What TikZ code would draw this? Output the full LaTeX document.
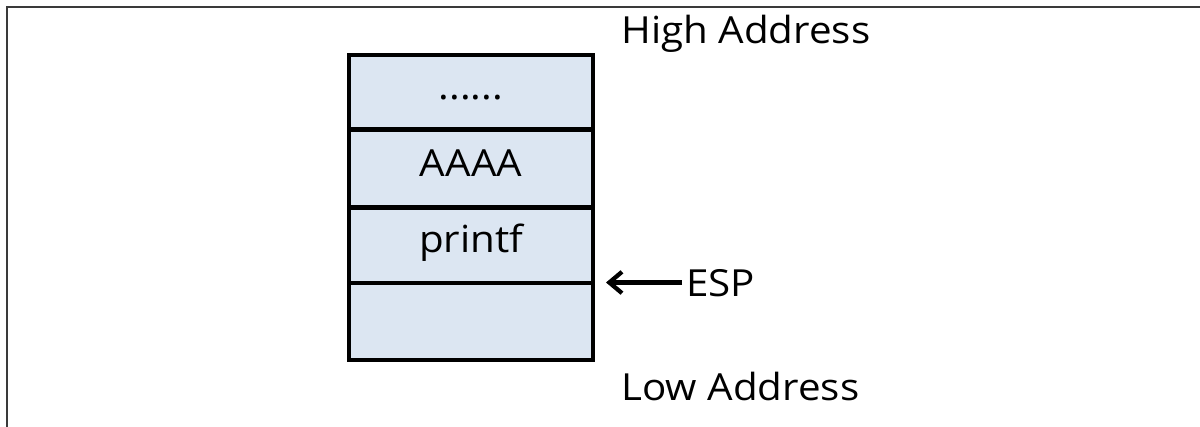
\documentclass[tikz,border=0pt]{standalone}
\usepackage{fontspec}
\setmainfont[FakeStretch=1.08]{Open Sans}
\usetikzlibrary{arrows.meta}
\definecolor{cellfill}{HTML}{DCE6F2}
\definecolor{framegray}{HTML}{3A3A3A}
\tikzset{
  cellbox/.style={draw=black, fill=cellfill, line width=3.5pt, minimum width=183pt,
    inner sep=0pt, outer sep=0pt, anchor=north west},
  lbl/.style={font=\fontsize{28pt}{32pt}\selectfont, inner sep=0pt, text=black},
  ptr/.style={line width=3.2pt, -{Straight Barb[length=9.5pt,width=16pt,line width=3.2pt]}},
}
\begin{document}
\begin{tikzpicture}[x=0.75pt,y=-0.75pt]
\useasboundingbox (0,0) rectangle (1200,427);
\fill[white] (0,0) rectangle (1200,427);
% image frame (top and left edges)
\draw[framegray, line width=1.5pt] (6.5,427) -- (6.5,7.5) -- (1200,7.5);
% stack cells
\node[cellbox, minimum height=55.9pt] (c1) at (349,55) {};
\node[cellbox, minimum height=58.5pt] (c2) at (349,129.5) {};
\node[cellbox, minimum height=56.6pt] (c3) at (349,207.5) {};
\node[cellbox, minimum height=57.8pt] (c4) at (349,283) {};
% cell texts
\node[lbl, anchor=base] (t1) at (471,100) {......};
\node[lbl, anchor=base] (t2) at (471,177) {AAAA};
\node[lbl, anchor=base] (t3) at (471,253) {printf};
% side labels
\node[lbl, anchor=base west] (high) at (621,44) {High Address};
\node[lbl, anchor=base west] (low) at (621,401) {Low Address};
\node[lbl, anchor=base west] (esp) at (686,297) {ESP};
% pointer
\coordinate (tip) at (606,282.5);
\draw[ptr] ([xshift=-3pt]esp.base west |- tip) -- (tip);
\end{tikzpicture}
\end{document}
